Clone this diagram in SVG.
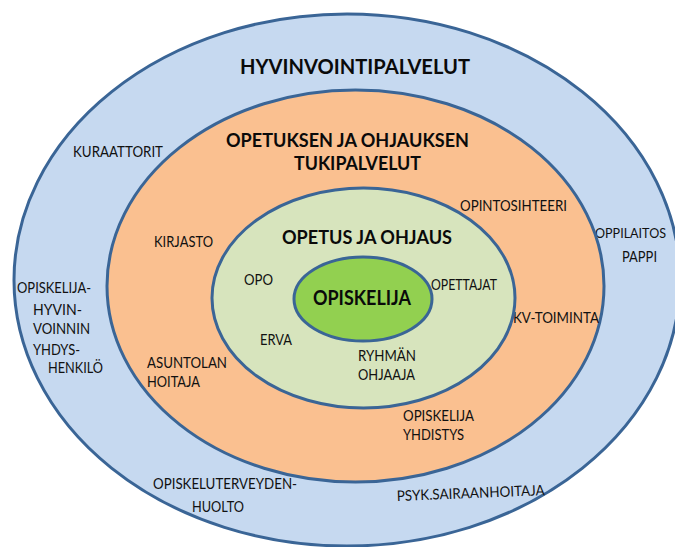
<svg xmlns="http://www.w3.org/2000/svg" width="675" height="547" viewBox="0 0 675 547">
  <style>
    .ring { stroke: #3A6596; stroke-width: 3; }
    .lbl { font-family: Lato, "Open Sans", "Liberation Sans", sans-serif; font-size: 14.5px; fill: #111111; }
    .ttl { font-family: Lato, "Open Sans", "Liberation Sans", sans-serif; font-size: 19px; font-weight: bold; fill: #0a0a0a; }
  </style>
  <rect width="675" height="547" fill="#ffffff"/>
  <g id="hyvinvointipalvelut">
    <ellipse class="ring" cx="347" cy="280" rx="333" ry="266" fill="#C6D9F0"/>
    <text class="ttl" x="240" y="74" style="font-size:21px" textLength="230" lengthAdjust="spacingAndGlyphs">HYVINVOINTIPALVELUT</text>
    <text class="lbl" x="73" y="157" textLength="90" lengthAdjust="spacingAndGlyphs">KURAATTORIT</text>
    <text class="lbl" x="595" y="238" style="font-size:13.5px" textLength="71" lengthAdjust="spacingAndGlyphs">OPPILAITOS</text>
    <text class="lbl" x="622" y="262" textLength="35" lengthAdjust="spacingAndGlyphs">PAPPI</text>
    <text class="lbl" x="17" y="293" textLength="74" lengthAdjust="spacingAndGlyphs">OPISKELIJA-</text>
    <text class="lbl" x="33" y="315" textLength="49" lengthAdjust="spacingAndGlyphs">HYVIN-</text>
    <text class="lbl" x="33" y="334" textLength="57" lengthAdjust="spacingAndGlyphs">VOINNIN</text>
    <text class="lbl" x="33" y="355" textLength="47" lengthAdjust="spacingAndGlyphs">YHDYS-</text>
    <text class="lbl" x="48" y="373" textLength="55" lengthAdjust="spacingAndGlyphs">HENKILÖ</text>
    <text class="lbl" x="153" y="489" textLength="144" lengthAdjust="spacingAndGlyphs">OPISKELUTERVEYDEN-</text>
    <text class="lbl" x="192" y="512" textLength="52" lengthAdjust="spacingAndGlyphs">HUOLTO</text>
    <text class="lbl" x="397" y="501" textLength="148" lengthAdjust="spacingAndGlyphs" transform="rotate(-2.3 397 501)">PSYK.SAIRAANHOITAJA</text>
  </g>
  <g id="tukipalvelut">
    <ellipse class="ring" cx="355.5" cy="286" rx="248.5" ry="196" fill="#FAC090"/>
    <text class="ttl" x="226" y="147" textLength="243" lengthAdjust="spacingAndGlyphs">OPETUKSEN JA OHJAUKSEN</text>
    <text class="ttl" x="294" y="170" textLength="127" lengthAdjust="spacingAndGlyphs">TUKIPALVELUT</text>
    <text class="lbl" x="154" y="247" textLength="59" lengthAdjust="spacingAndGlyphs">KIRJASTO</text>
    <text class="lbl" x="460" y="211" textLength="107" lengthAdjust="spacingAndGlyphs">OPINTOSIHTEERI</text>
    <text class="lbl" x="513" y="323" textLength="86" lengthAdjust="spacingAndGlyphs">KV-TOIMINTA</text>
    <text class="lbl" x="147" y="368" textLength="80" lengthAdjust="spacingAndGlyphs">ASUNTOLAN</text>
    <text class="lbl" x="147" y="387" textLength="53" lengthAdjust="spacingAndGlyphs">HOITAJA</text>
    <text class="lbl" x="403" y="421" textLength="71" lengthAdjust="spacingAndGlyphs">OPISKELIJA</text>
    <text class="lbl" x="403" y="440" textLength="61" lengthAdjust="spacingAndGlyphs">YHDISTYS</text>
  </g>
  <g id="opetus-ja-ohjaus">
    <ellipse class="ring" cx="363.5" cy="298" rx="151.5" ry="110" fill="#D7E4BD"/>
    <text class="ttl" x="282" y="244" textLength="170" lengthAdjust="spacingAndGlyphs">OPETUS JA OHJAUS</text>
    <text class="lbl" x="244" y="285" textLength="29" lengthAdjust="spacingAndGlyphs">OPO</text>
    <text class="lbl" x="431" y="290" textLength="66" lengthAdjust="spacingAndGlyphs">OPETTAJAT</text>
    <text class="lbl" x="260" y="345" textLength="32" lengthAdjust="spacingAndGlyphs">ERVA</text>
    <text class="lbl" x="358" y="361" textLength="58" lengthAdjust="spacingAndGlyphs">RYHMÄN</text>
    <text class="lbl" x="358" y="380" textLength="57" lengthAdjust="spacingAndGlyphs">OHJAAJA</text>
  </g>
  <g id="opiskelija">
    <ellipse class="ring" cx="363" cy="299" rx="69" ry="42" fill="#92D050"/>
    <text class="ttl" x="313" y="305" style="font-size:20px" textLength="98" lengthAdjust="spacingAndGlyphs">OPISKELIJA</text>
  </g>
</svg>
